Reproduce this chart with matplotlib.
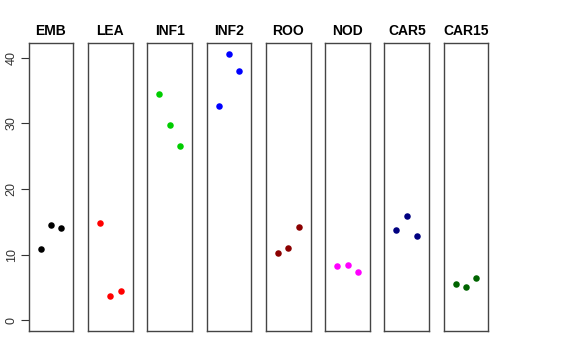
import numpy as np
import matplotlib
matplotlib.use("Agg")
import matplotlib.pyplot as plt

plt.rcParams['font.family'] = ['Liberation Sans', 'DejaVu Sans']

# tissue panels, three replicates each
tissues = ["EMB", "LEA", "INF1", "INF2", "ROO", "NOD", "CAR5", "CAR15"]
colors = ["black", "red", "#00CD00", "blue", "#8B0000", "magenta", "#000080", "#006400"]
replicate = [1, 2, 3]

emb = [10.9, 14.5, 14.0]
lea = [14.8, 3.7, 4.5]
inf1 = [34.4, 29.75, 26.5]
inf2 = [32.7, 40.6, 38.0]
roo = [10.3, 11.05, 14.25]
nod = [8.25, 8.45, 7.3]
car5 = [13.75, 15.85, 12.8]
car15 = [5.55, 5.1, 6.4]
values = [emb, lea, inf1, inf2, roo, nod, car5, car15]

yticks = [0, 10, 20, 30, 40]
ymax = max(max(v) for v in values)

W, H = 576, 360
fig = plt.figure(figsize=(W / 100, H / 100), dpi=100)

left0, step, pw = 28.7, 59.3, 44.6
top, bottom = 43, 331

for i, (name, vals, col) in enumerate(zip(tissues, values, colors)):
    x0 = left0 + i * step
    ax = fig.add_axes([x0 / W, (H - bottom) / H, pw / W, (bottom - top) / H])
    ax.scatter(replicate, vals, s=22, color=col, zorder=3, linewidths=0)
    ax.set_xlim(0 - 0.16, 4 + 0.16)
    pad = 0.04 * ymax
    ax.set_ylim(-pad, ymax + pad)
    ax.set_xticks([])
    for s in ax.spines.values():
        s.set_color('#444444')
        s.set_linewidth(1.0)
    ax.set_title(name, fontsize=10, fontweight='bold', pad=6)
    if i == 0:
        ax.set_yticks(yticks)
        ax.tick_params(axis='y', length=6, width=0.8, color='#333333',
                       labelsize=9, pad=2, labelcolor='#333333')
        for lab in ax.get_yticklabels():
            lab.set_rotation(90)
            lab.set_va('center')
    else:
        ax.set_yticks([])

fig.savefig("out.png", dpi=100)
